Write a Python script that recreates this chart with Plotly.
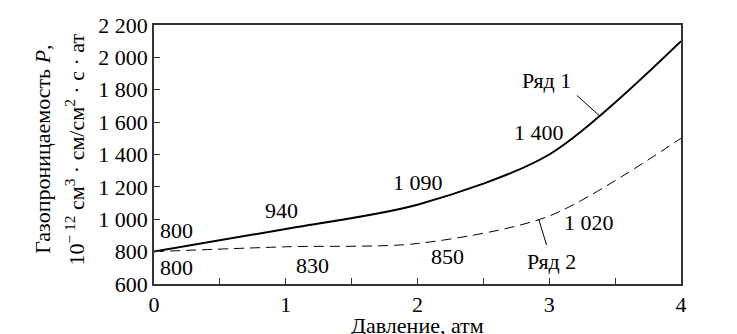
import plotly.graph_objects as go

pressure = [0, 1, 2, 3, 4]
series1 = [800, 940, 1090, 1400, 2100]
series2 = [800, 830, 850, 1020, 1500]
ytick_vals = [600, 800, 1000, 1200, 1400, 1600, 1800, 2000, 2200]
ytick_text = ["600", "800", "1 000", "1 200", "1 400", "1 600", "1 800", "2 000", "2 200"]
xtick_vals = [0, 1, 2, 3, 4]
series1_labels = ["800", "940", "1 090", "1 400", "2 100"]
series2_labels = ["800", "830", "850", "1 020", "1 500"]

FONT = "Liberation Serif"
FS = 22
TXT = dict(family=FONT, size=FS, color="black")

fig = go.Figure(layout=dict(font=TXT, width=737, height=334))
fig.add_trace(go.Scatter(x=pressure, y=series1, mode="lines", name="Ряд 1",
                         line=dict(color="black", width=2, shape="spline", smoothing=0.8)))
fig.add_trace(go.Scatter(x=pressure, y=series2, mode="lines", name="Ряд 2",
                         line=dict(color="black", width=1, dash="10px,6px", shape="spline", smoothing=0.8)))

# value labels (positions in data coords)
lab1_pos = [(0.17, 928), (0.97, 1051), (2.0, 1224), (2.92, 1533), (4.24, 2095)]
lab2_pos = [(0.17, 699), (1.2, 717), (2.23, 773), (3.30, 977), (4.24, 1495)]
for t, (x, y) in zip(series1_labels, lab1_pos):
    fig.add_annotation(x=x, y=y, text=t, showarrow=False, font=TXT)
for t, (x, y) in zip(series2_labels, lab2_pos):
    fig.add_annotation(x=x, y=y, text=t, showarrow=False, font=TXT)

# series names with leader lines
fig.add_annotation(x=2.98, y=1855, text="Ряд 1", showarrow=False, font=TXT)
fig.add_shape(type="line", xref="x", yref="y", x0=3.21, y0=1765, x1=3.38, y1=1640,
              line=dict(color="black", width=1))
fig.add_annotation(x=3.02, y=742, text="Ряд 2", showarrow=False, font=TXT)
fig.add_shape(type="line", xref="x", yref="y", x0=2.92, y0=1000, x1=2.98, y1=840,
              line=dict(color="black", width=1))

# axis titles
fig.add_annotation(xref="paper", yref="paper", x=-0.239, y=0.52, textangle=-90, showarrow=False,
                   text="Газопроницаемость <i>P</i>,", font=TXT)
fig.add_annotation(xref="paper", yref="paper", x=-0.180, y=0.52, textangle=-90, showarrow=False,
                   text="10<sup>− 12</sup> см<sup>3</sup> · см/см<sup>2</sup> · с · ат", font=TXT)
fig.add_annotation(xref="paper", yref="paper", x=0.5, y=-0.162, yanchor="middle", showarrow=False,
                   text="Давление, атм", font=TXT)

fig.update_layout(
    margin=dict(l=146, r=64, t=17, b=58, autoexpand=False),
    paper_bgcolor="white", plot_bgcolor="white",
    showlegend=False,
)
fig.update_xaxes(range=[0, 4], tickvals=xtick_vals, ticks="inside", ticklen=6, tickwidth=1, tickcolor="#333",
                 showline=True, linecolor="#333", linewidth=1.5, mirror=True, showgrid=False, zeroline=False,
                 tickfont=TXT, automargin=False,
                 minor=dict(dtick=0.5, ticks="inside", ticklen=6, tickwidth=1, tickcolor="#333"))
fig.update_yaxes(range=[600, 2200], tickvals=ytick_vals, ticktext=ytick_text, ticks="inside", ticklen=6,
                 tickwidth=1, tickcolor="#333", showline=True, linecolor="#333", linewidth=1.5, mirror=True,
                 tickfont=TXT, showgrid=False, zeroline=False, automargin=False)

fig.write_html("out.html")
